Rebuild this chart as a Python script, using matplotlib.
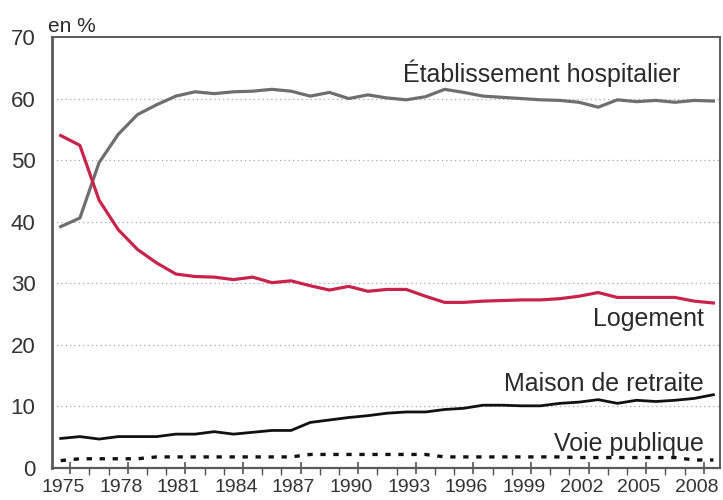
import matplotlib.pyplot as plt
from matplotlib.transforms import ScaledTranslation

plt.rcParams['font.family'] = ['Liberation Sans', 'DejaVu Sans']

# place of death, share in %, 1975-2009
years = list(range(1975, 2010))

hopital = [39.2, 40.6, 49.6, 54.2, 57.4, 59.0, 60.4, 61.1, 60.8, 61.1,
           61.2, 61.5, 61.2, 60.4, 61.0, 60.0, 60.6, 60.1, 59.8, 60.3,
           61.5, 61.0, 60.4, 60.2, 60.0, 59.8, 59.7, 59.4, 58.6, 59.8,
           59.5, 59.7, 59.4, 59.7, 59.6]

logement = [54.0, 52.4, 43.5, 38.7, 35.5, 33.3, 31.5, 31.1, 31.0, 30.6,
            31.0, 30.1, 30.4, 29.6, 28.9, 29.5, 28.7, 29.0, 29.0, 27.9,
            26.9, 26.9, 27.1, 27.2, 27.3, 27.3, 27.5, 27.9, 28.5, 27.7,
            27.7, 27.7, 27.7, 27.1, 26.8]

retraite = [4.8, 5.1, 4.7, 5.1, 5.1, 5.1, 5.5, 5.5, 5.9, 5.5,
            5.8, 6.1, 6.1, 7.4, 7.8, 8.2, 8.5, 8.9, 9.1, 9.1,
            9.5, 9.7, 10.2, 10.2, 10.1, 10.1, 10.5, 10.7, 11.1, 10.5,
            11.0, 10.8, 11.0, 11.3, 11.9]

voie = [1.2, 1.5, 1.5, 1.5, 1.5, 1.8, 1.8, 1.8, 1.8, 1.8,
        1.8, 1.8, 1.8, 2.2, 2.2, 2.2, 2.2, 2.2, 2.2, 2.2,
        1.8, 1.8, 1.8, 1.8, 1.8, 1.8, 1.8, 1.7, 1.7, 1.7,
        1.7, 1.7, 1.7, 1.3, 1.3]

tick_years = list(range(1975, 2009, 3))
y_ticks = [0, 10, 20, 30, 40, 50, 60, 70]

fig = plt.figure(figsize=(7.23, 5.0), dpi=100)
ax = fig.add_axes([0.072, 0.064, 0.924, 0.862])

for yv in y_ticks[1:-1]:
    ax.axhline(yv, color='#a8a8a8', linewidth=0.9, linestyle=(0, (1, 2.5)), zorder=1)

ax.plot(years, hopital, color='#6e6e6e', linewidth=2.3, zorder=3)
ax.plot(years, logement, color='#c8234b', linewidth=2.3, zorder=3)
ax.plot(years, retraite, color='#111111', linewidth=2.0, zorder=3)
ax.plot(years, voie, color='#111111', linewidth=2.4, linestyle=(0, (1.6, 2.3)), zorder=3)

ax.set_xlim(1974.55, 2009.35)
ax.set_ylim(0, 70)

# ticks sit half a year to the right of each data point
ax.set_xticks([y + 0.5 for y in tick_years])
ax.set_xticklabels([str(y) for y in tick_years])
ax.set_xticks([y + 0.5 for y in years[:-1]], minor=True)
ax.tick_params(axis='x', which='major', length=8, width=1.2, color='#555555',
               labelsize=14, pad=4, direction='inout')
ax.tick_params(axis='x', which='minor', length=5, width=1.0, color='#555555', direction='out')
ax.set_yticks(y_ticks)
ax.tick_params(axis='y', length=0, labelsize=16, pad=12, labelcolor='#333333')
ax.tick_params(axis='x', labelcolor='#333333')

# year labels sit a little left of their tick, as in the original
shift = ScaledTranslation(-7 / 100, 0, fig.dpi_scale_trans)
for lab in ax.get_xticklabels():
    lab.set_transform(lab.get_transform() + shift)

for side in ('left', 'bottom', 'top', 'right'):
    ax.spines[side].set_color('#5a5a5a')
ax.spines['left'].set_linewidth(2.0)
ax.spines['bottom'].set_linewidth(1.6)
ax.spines['top'].set_linewidth(1.4)
ax.spines['right'].set_linewidth(1.4)

txt = dict(fontsize=18, color='#2a2a2a', ha='right', va='baseline', zorder=4)
ax.text(2007.3, 62.7, 'Établissement hospitalier', **txt)
ax.text(2008.5, 23.0, 'Logement', **txt)
ax.text(2008.5, 12.5, 'Maison de retraite', **txt)
ax.text(2008.5, 2.8, 'Voie publique', **txt)

ax.text(-0.006, 1.012, 'en %', transform=ax.transAxes, fontsize=15,
        color='#2a2a2a', ha='left', va='baseline')

fig.savefig('out.png', dpi=100)
